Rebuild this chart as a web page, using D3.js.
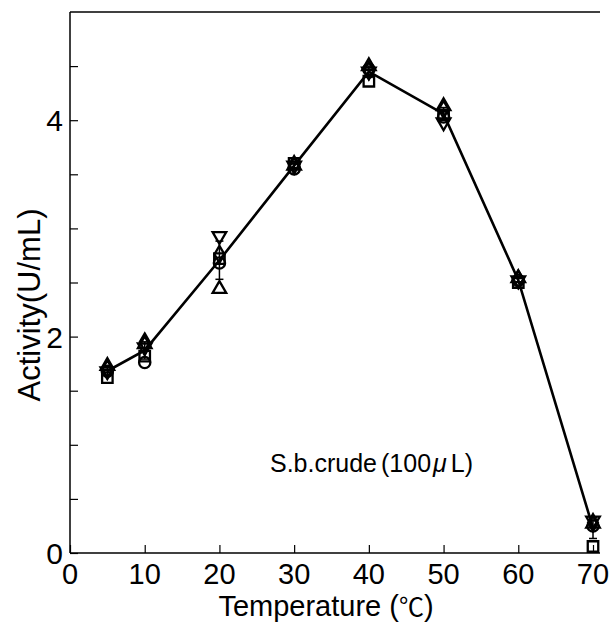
<!DOCTYPE html>
<html>
<head>
<meta charset="utf-8">
<script src="https://cdn.jsdelivr.net/npm/d3@7"></script>
<style>
  body { margin: 0; background: #fff; }
  text { font-family: "Liberation Sans", Arial, sans-serif; fill: #000; }
</style>
</head>
<body>
<div id="chart"></div>
<script>
// temperatures and replicate readings (one array per marker type)
var temps = [5, 10, 20, 30, 40, 50, 60, 70];
var squareVals   = [1.62, 1.82, 2.72, 3.60, 4.36, 4.05, 2.50, 0.06];
var circleVals   = [1.68, 1.76, 2.68, 3.55, 4.47, 4.03, 2.52, 0.25];
var triUpVals    = [1.73, 1.93, 2.44, 3.58, 4.50, 4.13, 2.54, 0.27];
var triDownVals  = [1.68, 1.90, 2.93, 3.58, 4.45, 3.98, 2.52, 0.30];
var diamondVals  = [1.70, 1.95, 2.76, 3.59, 4.46, 4.10, 2.53, 0.28];
var xTicks = [0, 10, 20, 30, 40, 50, 60, 70];
var yTicks = [0, 2, 4];

var width = 611, height = 623;
var svg = d3.select("#chart").append("svg").attr("width", width).attr("height", height);

var x = d3.scaleLinear().domain([0, 70]).range([70, 593]);
var y = d3.scaleLinear().domain([0, 5]).range([553, 12]);

// frame: left, bottom, top
svg.append("line").attr("x1", 70).attr("x2", 70).attr("y1", 12).attr("y2", 553).attr("stroke", "#000").attr("stroke-width", 1.5);
svg.append("line").attr("x1", 70).attr("x2", 600).attr("y1", 553).attr("y2", 553).attr("stroke", "#000").attr("stroke-width", 1.5);
svg.append("line").attr("x1", 70).attr("x2", 600).attr("y1", 12).attr("y2", 12).attr("stroke", "#000").attr("stroke-width", 1.5);

// x axis (ticks point inward)
var xAxis = svg.append("g").attr("transform", "translate(0,553)")
  .call(d3.axisTop(x).tickValues(xTicks).tickSize(8).tickFormat(""));
xAxis.select(".domain").remove();
xAxis.selectAll("line").attr("stroke-width", 1.2);
svg.selectAll(".xlab").data(xTicks).enter().append("text")
  .attr("x", function(d) { return x(d); })
  .attr("y", 584)
  .attr("text-anchor", "middle")
  .attr("font-size", 29)
  .text(function(d) { return d; });

// y axis minor ticks every 0.5
var yAxis = svg.append("g").attr("transform", "translate(70,0)")
  .call(d3.axisRight(y).tickValues(d3.range(0, 5, 0.5)).tickSize(8).tickFormat(""));
yAxis.select(".domain").remove();
yAxis.selectAll("line").attr("stroke-width", 1.2);
svg.selectAll(".ylab").data(yTicks).enter().append("text")
  .attr("x", 63)
  .attr("y", function(d) { return y(d) + 11; })
  .attr("text-anchor", "end")
  .attr("font-size", 30)
  .text(function(d) { return d; });

// axis titles
var xt = svg.append("text").attr("x", 326).attr("y", 616).attr("text-anchor", "middle").attr("font-size", 29);
xt.append("tspan").text("Temperature (");
xt.append("tspan").style("font-family", "'Noto Sans CJK JP'").attr("font-size", 25).text("℃");
xt.append("tspan").text(")");
svg.append("text").attr("transform", "translate(40,305) rotate(-90)").attr("text-anchor", "middle")
  .attr("font-size", 31).text("Activity(U/mL)");

// annotation
var ann = svg.append("text").attr("x", 270).attr("y", 472).attr("font-size", 25);
ann.append("tspan").text("S.b.crude");
ann.append("tspan").attr("dx", 4).text("(100");
ann.append("tspan").attr("dx", 2).style("font-style", "italic").text("μ");
ann.append("tspan").attr("dx", 4).text("L)");

// mean + sd from the replicates
var reps = [squareVals, circleVals, triUpVals, triDownVals, diamondVals];
var stats = temps.map(function(t, i) {
  var v = reps.map(function(r) { return r[i]; });
  return { t: t, mean: d3.mean(v), sd: d3.deviation(v) };
});

var line = d3.line().x(function(d) { return x(d.t); }).y(function(d) { return y(d.mean); });
svg.append("path").datum(stats).attr("d", line)
  .attr("fill", "none").attr("stroke", "#000").attr("stroke-width", 2.6);

var eb = svg.selectAll(".eb").data(stats).enter().append("g");
eb.append("line")
  .attr("x1", function(d) { return x(d.t); }).attr("x2", function(d) { return x(d.t); })
  .attr("y1", function(d) { return y(d.mean - d.sd); }).attr("y2", function(d) { return y(d.mean + d.sd); })
  .attr("stroke", "#000").attr("stroke-width", 1.5);
[-1, 1].forEach(function(s) {
  eb.append("line")
    .attr("x1", function(d) { return x(d.t) - 4; }).attr("x2", function(d) { return x(d.t) + 4; })
    .attr("y1", function(d) { return y(d.mean + s * d.sd); }).attr("y2", function(d) { return y(d.mean + s * d.sd); })
    .attr("stroke", "#000").attr("stroke-width", 1.5);
});

// markers
var shapes = [
  { vals: squareVals, sym: d3.symbolSquare, size: 110, rot: 0 },
  { vals: circleVals, sym: d3.symbolCircle, size: 100, rot: 0 },
  { vals: triUpVals, sym: d3.symbolTriangle, size: 80, rot: 0 },
  { vals: triDownVals, sym: d3.symbolTriangle, size: 80, rot: 180 },
  { vals: diamondVals, sym: d3.symbolDiamond, size: 85, rot: 0 }
];
shapes.forEach(function(s) {
  svg.append("g").selectAll("path").data(s.vals).enter().append("path")
    .attr("d", d3.symbol().type(s.sym).size(s.size))
    .attr("transform", function(d, i) {
      return "translate(" + x(temps[i]) + "," + y(d) + ") rotate(" + s.rot + ")";
    })
    .attr("fill", "none")
    .attr("stroke", "#000").attr("stroke-width", 2.3);
});
</script>
</body>
</html>
